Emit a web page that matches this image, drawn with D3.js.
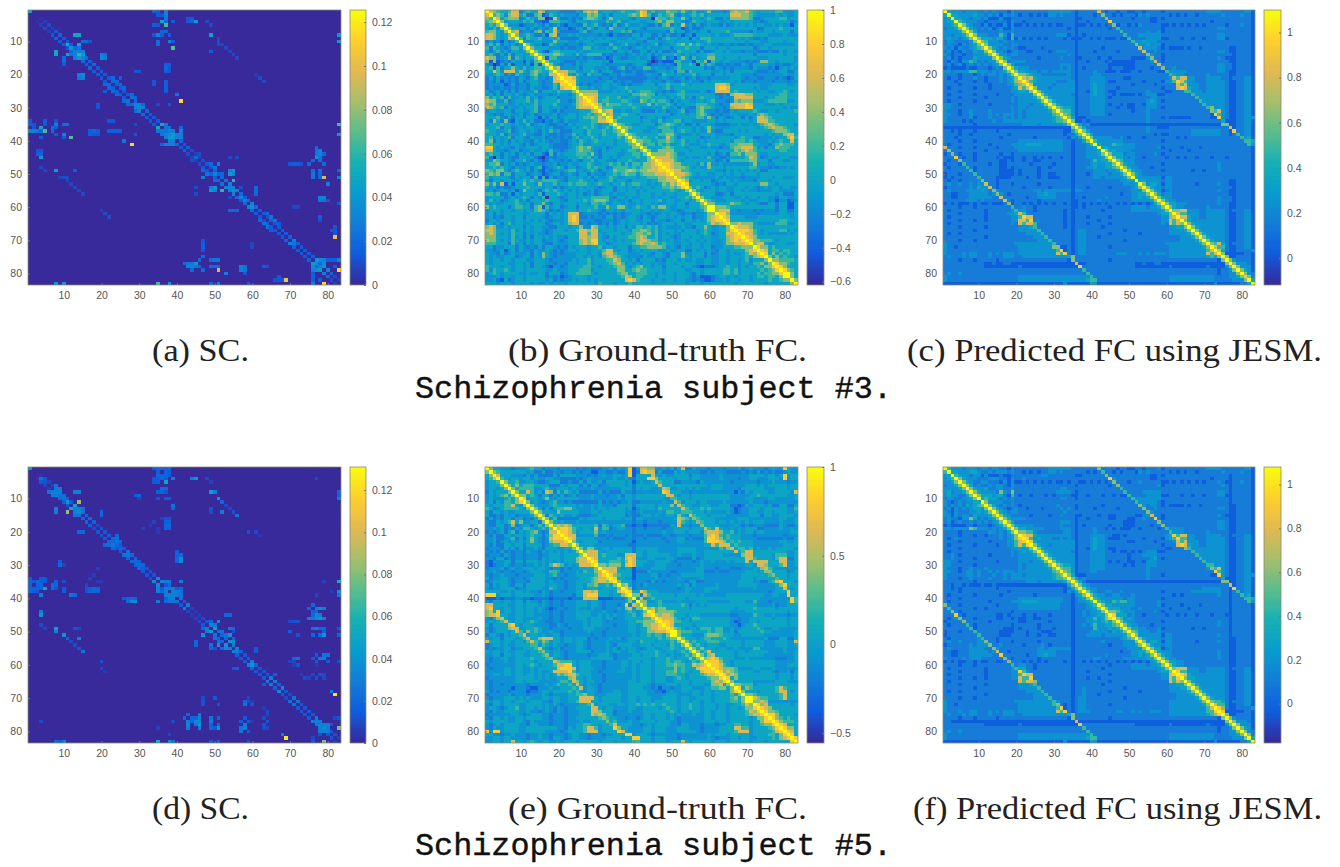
<!DOCTYPE html>
<meta charset="utf-8">
<title>SC and FC matrices for two schizophrenia subjects</title>
<style>
    body { margin: 0; background: #fff; }
    .tick text { font: 10.5px "Liberation Sans", sans-serif; fill: #555; }
    .tick line, .domain { stroke: #777; }
    .cap { font-family: "Liberation Serif", serif; font-size: 31px; fill: #222; }
    .sub { font-family: "Liberation Mono", monospace; font-size: 31px; fill: #111; stroke: #111; stroke-width: 0.4; }
</style>
<body>
<script src="https://cdn.jsdelivr.net/npm/d3@7"></script>
<script>
// axis ticks shared by all six matrices
var matrixTicks = [10, 20, 30, 40, 50, 60, 70, 80];
var nRegions = 83;

// colorbar ranges and ticks, one per panel
var domainA = [0, 0.1256],    ticksA = [0, 0.02, 0.04, 0.06, 0.08, 0.1, 0.12];
var domainB = [-0.62, 1],     ticksB = [-0.6, -0.4, -0.2, 0, 0.2, 0.4, 0.6, 0.8, 1];
var domainC = [-0.12, 1.1],   ticksC = [0, 0.2, 0.4, 0.6, 0.8, 1];
var domainD = [0, 0.131],     ticksD = [0, 0.02, 0.04, 0.06, 0.08, 0.1, 0.12];
var domainE = [-0.555, 1],    ticksE = [-0.5, 0, 0.5, 1];
var domainF = [-0.18, 1.08],  ticksF = [0, 0.2, 0.4, 0.6, 0.8, 1];

// SC (a): values between neighbouring regions i and i+1, i = 1..82
var scBandA = [0,0,.003,.007,.01,.007,.014,.017,.014,.014,.014,.02,.02,.02,.02,.017,.02,.014,.017,.014,.014,.02,.02,.014,.014,.014,.017,.02,.017,.02,.02,.014,.014,.014,.014,.035,.014,.014,.028,.02,.014,.017,.01,.007,.007,.01,.014,.014,.017,.017,.02,.017,.014,.02,.02,.02,.014,.02,.014,.02,.014,.014,.01,.017,.014,.014,.014,.014,.017,.02,.017,.014,.014,.014,.017,.02,.02,.02,.02,.014,.01,.007];
// SC (a): other non-zero cells [row, col, value], mirrored when drawn
var scCellsA = [
[1,1,.045],[1,35,.012],[2,36,.012],[1,37,.03],[2,37,.03],[3,37,.025],[4,36,.04],[5,37,.065],[4,37,.02],[5,35,.015],
[3,43,.015],[4,43,.02],[3,44,.015],[4,44,.022],[4,45,.048],[8,13,.055],[8,14,.04],[8,49,.045],[8,35,.03],[7,36,.02],[7,37,.02],[8,38,.015],
[10,35,.025],[11,35,.025],[10,38,.03],[10,39,.015],[12,39,.07],[13,49,.022],[11,51,.01],[10,51,.01],[5,49,.008],
[13,54,.008],[14,55,.008],[15,56,.008],[12,53,.008],[8,83,.04],[10,83,.03],[11,11,.052],[11,14,.04],[14,11,.05],[12,12,.04],[13,13,.03],
[14,14,.06],[13,15,.028],[13,14,.03],[15,13,.028],[15,15,.03],[14,15,.04],[13,8,.05],[14,8,.05],[12,14,.025],[15,21,.03],[14,21,.025],[20,14,.03],[20,15,.033],
[10,16,.012],[10,17,.012],[16,10,.02],[15,10,.02],[19,29,.012],[19,30,.012],[17,37,.015],[18,37,.02],[18,38,.012],[23,37,.015],[25,37,.015],[22,37,.015],
[22,24,.025],[21,25,.015],[23,25,.02],[24,26,.02],[23,21,.02],[24,22,.02],[24,23,.015],[26,28,.02],[27,29,.02],[27,28,.025],[29,29,.03],[29,30,.03],[30,31,.03],[30,30,.03],[30,29,.03],[29,31,.02],
[26,40,.02],[28,41,.115],[34,8,.012],[35,8,.03],[35,10,.022],[35,11,.022],[36,8,.015],[38,10,.03],[39,12,.07],[37,4,.02],[36,4,.05],[37,5,.065],
[34,1,.015],[35,1,.015],[35,2,.012],[37,1,.03],[37,2,.03],[37,3,.025],[39,4,.015],[34,5,.015],[35,5,.012],[37,17,.015],[38,17,.015],[37,19,.015],[38,19,.012],[37,22,.015],[37,24,.015],[34,22,.012],[34,23,.012],[38,29,.012],[35,29,.01],
[36,35,.06],[35,36,.05],[37,35,.025],[38,36,.025],[37,36,.03],[37,37,.025],[38,37,.03],[36,37,.025],[39,37,.03],[39,38,.04],[38,38,.035],[39,39,.04],[38,39,.04],[40,38,.03],[41,37,.02],[41,38,.02],[41,39,.02],[36,41,.018],[37,41,.028],[38,41,.028],[39,41,.028],[40,41,.02],[41,36,.018],[35,83,.06],[38,83,.03],
[40,26,.025],[41,28,.115],[43,3,.012],[43,4,.012],[44,4,.018],[45,4,.04],[48,4,.008],[49,8,.045],[49,13,.015],[51,9,.008],[51,10,.01],[52,11,.008],[53,12,.008],[54,13,.008],[55,14,.008],[56,15,.008],[61,20,.006],[62,21,.01],[63,22,.01],
[44,46,.01],[45,45,.02],[47,49,.02],[48,50,.025],[47,51,.03],[50,50,.03],[50,52,.02],[49,54,.03],[49,55,.03],[45,54,.01],[45,56,.01],[52,55,.06],[53,52,.025],[54,50,.04],[55,49,.04],[55,50,.03],[54,53,.04],[53,54,.03],[54,54,.03],[55,54,.03],[55,55,.035],[56,55,.03],[54,57,.01],[55,52,.06],[61,54,.02],[61,55,.02],[61,56,.02],[58,58,.03],[57,57,.03],[60,60,.035],[59,60,.03],[60,59,.03],[55,61,.02],[56,61,.02],[59,83,.01],
[42,77,.02],[43,77,.025],[43,78,.025],[44,77,.025],[44,78,.025],[45,77,.04],[46,76,.02],[46,78,.028],[47,79,.02],[47,70,.012],[47,71,.012],[49,76,.025],[50,76,.025],[51,76,.02],[51,78,.02],[51,79,.1],[53,80,.05],[57,78,.03],[57,79,.03],[49,83,.012],[51,83,.025],[60,71,.008],[60,72,.008],[63,78,.03],[64,78,.015],[63,65,.025],[64,66,.025],[65,63,.025],[64,62,.02],[65,67,.015],[68,82,.012],[69,82,.105],[67,81,.012],[70,71,.03],[71,71,.025],
[71,47,.015],[72,47,.015],[73,47,.012],[77,45,.04],[78,43,.03],[78,44,.03],[79,44,.02],[78,46,.022],[78,45,.025],[75,47,.02],[76,46,.02],[76,49,.022],[78,49,.022],[79,51,.095],[76,51,.025],[78,50,.02],[80,53,.03],[78,58,.025],[79,58,.025],[80,58,.012],[78,63,.015],[78,64,.01],
[76,77,.04],[77,76,.04],[77,77,.035],[78,76,.035],[78,78,.03],[79,77,.035],[79,78,.04],[76,79,.028],[76,83,.04],[76,82,.02],[76,81,.02],[79,80,.03],[80,81,.02],[80,79,.03],[81,80,.02],[79,83,.115],[78,82,.015],[82,69,.105],[82,67,.012],[82,66,.012],
[83,8,.04],[83,10,.04],[83,35,.065],[83,38,.04],[83,49,.02],[83,51,.03],[83,59,.015],[83,76,.03],[83,79,.115],[79,83,.115],[80,76,.015],[81,76,.015],[82,76,.015]
];

// SC (d): neighbouring regions
var scBandD = [0,0,.003,.014,.008,.007,.018,.018,.016,.016,.014,.02,.02,.02,.02,.02,.018,.01,.014,.013,.016,.02,.018,.014,.014,.014,.02,.02,.018,.02,.014,.014,.01,.008,.01,.014,.02,.02,.02,.014,.014,.035,.008,.006,.007,.01,.014,.02,.018,.02,.02,.02,.025,.025,.02,.018,.014,.014,.014,.025,.014,.013,.014,.018,.018,.018,.018,.014,.01,.014,.018,.014,.013,.014,.014,.018,.02,.02,.02,.014,.007,.007];
// SC (d): other non-zero cells
var scCellsD = [
[1,1,.04],[1,35,.02],[1,36,.02],[1,37,.02],[1,38,.02],[2,35,.02],[2,38,.02],[3,35,.02],[3,36,.02],[3,37,.02],[3,38,.02],[4,4,.025],[5,5,.012],
[4,36,.03],[4,37,.02],[5,37,.05],[5,35,.015],[4,39,.03],[4,44,.03],[4,45,.04],[4,48,.008],[5,49,.008],[8,13,.03],[8,14,.03],[8,49,.04],[8,50,.03],[8,35,.02],[7,36,.022],[7,37,.02],[8,37,.015],[10,35,.02],[10,37,.015],[10,38,.015],
[6,8,.03],[7,8,.035],[7,9,.03],[8,7,.03],[8,8,.028],[8,9,.03],[8,6,.025],[9,9,.025],[9,10,.025],[10,10,.025],[10,9,.022],[9,8,.03],
[11,11,.04],[14,11,.08],[13,12,.05],[12,13,.05],[11,14,.085],[13,8,.03],[14,8,.03],[13,13,.03],[13,14,.035],[14,14,.035],[14,13,.03],[13,15,.025],[14,15,.03],[15,14,.025],[15,13,.025],
[14,20,.02],[15,20,.02],[20,14,.02],[20,15,.02],[10,51,.04],[14,52,.03],[13,49,.02],[14,49,.012],[11,52,.02],[12,53,.012],[13,54,.012],[14,55,.012],[15,56,.012],[12,39,.03],[13,39,.025],[16,37,.012],[16,38,.012],[18,37,.02],[18,38,.02],
[9,29,.015],[9,30,.012],[18,33,.006],[17,34,.006],[19,35,.006],[22,24,.025],[23,23,.02],[24,23,.025],[23,25,.02],[24,22,.022],[21,24,.02],[24,24,.02],[25,25,.02],[26,27,.025],[27,27,.025],[29,29,.02],[30,30,.02],[30,31,.02],[31,31,.015],
[26,40,.015],[27,40,.018],[27,41,.02],[28,41,.035],[29,41,.035],[28,40,.018],[30,9,.02],[30,10,.008],[31,19,.008],[33,34,.012],[34,35,.035],
[35,36,.04],[35,37,.03],[35,38,.03],[35,41,.025],[36,35,.035],[38,35,.03],[41,35,.03],[36,38,.02],[37,37,.03],[37,38,.03],[37,39,.03],[37,40,.028],[38,37,.03],[38,40,.03],[39,37,.03],[39,38,.03],[39,39,.03],[39,40,.03],[40,37,.015],[38,41,.025],[39,41,.025],[40,41,.025],[41,37,.02],[41,38,.025],[41,39,.025],
[34,1,.015],[35,1,.018],[35,2,.015],[36,1,.018],[36,3,.018],[37,1,.018],[37,2,.018],[37,3,.018],[38,2,.015],[38,3,.014],[34,4,.014],[35,4,.016],[36,4,.02],[37,4,.016],[37,5,.05],[34,5,.014],[35,8,.018],[36,8,.018],[37,8,.012],[35,10,.012],[37,17,.015],[38,17,.018],[37,19,.018],[38,19,.018],[36,16,.008],[35,20,.006],[34,17,.008],
[39,4,.03],[39,12,.025],[39,13,.02],[40,26,.015],[40,27,.018],[40,28,.02],[41,28,.035],[41,29,.035],[40,29,.018],[45,4,.04],[48,4,.01],[49,8,.045],[49,13,.012],[49,14,.01],[51,10,.04],[52,14,.03],[53,12,.01],[54,13,.01],[55,14,.012],[56,15,.025],[59,20,.012],[61,20,.01],[62,21,.006],
[35,83,.05],[38,83,.035],[9,83,.015],[10,83,.022],[42,43,.03],[43,42,.03],[48,50,.03],[47,51,.04],[48,49,.035],[49,48,.03],[50,49,.045],[49,47,.02],[50,51,.025],[50,52,.025],[51,53,.025],[49,54,.025],[49,55,.02],[45,54,.02],[54,51,.04],[54,53,.04],[55,53,.03],[55,54,.035],[53,55,.035],[54,55,.03],[52,55,.02],[55,56,.03],[56,56,.03],[53,45,.02],[55,50,.012],[60,59,.035],[59,60,.03],[60,60,.04],[61,60,.02],[61,56,.015],[61,55,.015],[55,61,.015],[56,61,.015],[64,65,.03],[65,66,.03],[63,66,.015],
[42,76,.02],[43,77,.03],[43,78,.03],[43,79,.03],[44,76,.02],[44,77,.02],[45,78,.04],[45,77,.03],[46,76,.03],[46,77,.03],[46,78,.03],[46,79,.03],[47,70,.008],[49,77,.03],[49,79,.02],[50,79,.015],[50,70,.02],[51,78,.02],[51,79,.04],[51,72,.012],[49,83,.012],[51,83,.02],[57,77,.015],[57,79,.025],[57,80,.025],[58,71,.02],[58,72,.02],[59,70,.008],[59,71,.008],[59,77,.015],[59,80,.015],[60,71,.006],[60,77,.006],[63,73,.006],[64,74,.01],[63,76,.01],[63,79,.01],[64,79,.01],[68,81,.03],[69,82,.13],[67,68,.035],[68,67,.035],[70,71,.025],[71,72,.025],
[70,50,.015],[70,47,.01],[71,58,.02],[72,58,.025],[72,60,.012],[71,47,.012],[72,47,.012],[75,43,.02],[76,44,.02],[76,45,.02],[75,46,.03],[76,46,.03],[77,43,.03],[78,43,.035],[77,44,.02],[77,45,.035],[78,45,.03],[77,46,.035],[78,46,.04],[76,49,.025],[78,49,.02],[76,51,.02],[79,51,.04],[78,58,.03],[79,58,.03],[76,58,.015],[77,4,.01],[77,39,.01],[79,35,.008],[81,38,.008],[78,63,.012],[77,64,.012],[75,64,.008],
[76,77,.03],[77,76,.03],[78,77,.03],[77,77,.03],[78,78,.03],[79,79,.035],[79,78,.03],[80,79,.035],[80,80,.03],[79,80,.03],[78,80,.03],[76,83,.015],[79,83,.09],[78,81,.012],[82,81,.012],[81,68,.03],[82,69,.125],
[83,8,.02],[83,10,.03],[83,35,.055],[83,38,.035],[83,39,.025],[83,49,.015],[83,51,.02],[83,59,.012],[83,76,.012],[83,79,.08],[82,76,.01]
];

// fraction of the colorbar that each FC level 0-9 stands for
var fcLevels = [0.02, 0.12, 0.22, 0.30, 0.38, 0.50, 0.62, 0.76, 0.88, 1];

// FC matrices read as levels, lower triangle, col 1..row, grouped by ten columns
var fcB = [
"9","79","659","5679","45469","435369","5664369","77643469","776434769","2423142359",
"4535243424 9","5254323553 69","4245342443 469","4532425244 3469","7662346254 34469","6161232433 142569","3201425133 2415169","4515244643 53455469","4475377746 435654469","3345424254 3356343779",
"2424232324 3245332378 9","2324132324 2344323377 89","2333312423 3244323354 889","2322322323 3243322353 7889","4234242424 3335244435 44469","3424244343 2343333234 332469","6454525334 3534234442 3334679","7663352344 4535344445 33236789","6564443343 4345344453 333467889","7654524334 3445244344 3233677789",
"3443344244 3345244324 2333344467 9","4323244334 2342333342 3344344545 69","4445324244 2443142442 3444345565 769","4264262143 5342213243 2433344455 7789","3444544343 3523443223 3243444454 34469","4445244234 3443343422 2334345454 345469","5443345234 4343243534 2224443544 4544569","4443524334 5332243223 2335343544 35444669","4534345244 3243342323 2324534454 344445469","4624342434 3324343233 2234354345 4444344569",
"5544343443 2423444322 2234453344 4344344456 9","8843433243 3444344322 2234565643 3423444446 69","7743323442 3343343533 2344565543 2434443455 469","4544243424 3424421524 3444555463 2444433445 5469","5204243224 4342102323 3344454534 2443434444 54469","3365443244 5324212433 2324324453 4433244454 344679","4556243423 2343323342 3343344543 3445453535 5466789","4454543243 3424512345 4244234545 4423555545 45667789","6546642454 3424213234 3455343454 2434655676 566777889","5656255244 4234312344 2343244243 3244545655 3566677789",
"5344443243 4425151423 3244343424 3345433444 3445556677 9","4244344334 5454455554 3244454342 4445344324 4443446677 79","6463714144 6443634453 4454555434 5443445345 5443434657 689","4342322344 4544434424 2344343443 2344244343 4344344556 5689","3423443413 6443245454 3434344342 3444244344 3434444445 43469","5545224143 4443514445 4344342342 3443433444 3444344344 344469","3444423434 5424350443 2344344455 5553244343 3444343443 3445469","3534234453 4244445444 3244445456 6653433424 4344445344 33443469","4343344454 3424463244 3444344355 4533443433 4344343344 344244469","6454442455 4425615344 2344244445 3364466434 5443546643 3443444569",
"3444344344 3435654232 3444344544 3244343444 4344343443 3234443469 9","3424344444 3344442434 3477723333 2323232334 4332323434 4323323346 69","3423244344 2444432344 3478722323 3244232344 3243234434 3434423346 789","2443444344 3434343233 3478733332 2333234344 3344243323 4424434346 7889","3434245344 3344442344 3467723233 2324234344 4342323444 3443344445 76789","6763343444 2434433224 4434463376 4434344243 5545453433 3343324464 334469","7764443534 3434432344 4344577677 3444344435 5665453444 3434443454 3344689","6764343544 2434332344 4444477577 4344443445 6656453434 3344443454 23447789","6664443534 2424434343 3244477677 4324344455 6764453443 2344344344 334467889","7664343543 3434423343 2344467688 4344343444 6776553434 3343443434 3334678789",
"5554442534 2434432243 3344467678 4423444445 6766764544 3344344344 3334667778 9","4423344424 3232424432 3243444344 5344344424 4556666534 3243344344 2334445566 69","3323413424 3324334323 2344344344 4577434423 4344443343 3442243434 3244344446 789","4332423433 3424364323 2333444344 3677544433 3443244324 4463344424 2344343345 7689","4343344423 4424364323 3333443434 3567654333 3243344324 4464344424 3344344445 46789","4344344344 4334443233 3334344534 4455764434 2444423244 4343343344 3344344345 344469","4344443344 3424443323 3244344534 4445675343 4344343344 3444443344 3344344344 3556469","5444344344 3424432133 2344445544 3444566434 5644344244 4434432122 2344544343 44546689","5354454344 3444443343 3344455534 4444466445 6554444344 4443344344 4445545344 444545689","3454344443 3433442444 2344555543 4444456644 5554434344 3444324344 4445545344 4454556689",
"3334344344 3444442323 1234444344 4444445764 5544434444 3444323111 2344343444 3455455469 9","3342142344 3444443423 2334344343 4444444787 5444344344 3443323211 2334344344 3444454456 69","4443444344 4434334344 4344444443 5444344454 4444344444 4443444344 4444443444 4444344444 469"
];

var fcC = [
"9","49","349","3449","33459","233469","3333469","33233469","343323469","2332222369",
"2322132346 9","3231322345 69","2312132243 369","3212212233 3469","2312122243 33369","2132133542 323369","2312312323 2323469","1211112112 22123269","3323333553 332323469","2222122212 3233232469",
"2122122232 2122232346 9","2221222212 2122232346 79","2222122222 2212222335 679","2122222212 2212222234 7579","2222122222 2222222233 44369","2122222212 2222122223 333369","2222122222 2122222232 3333469","2122222212 2222222232 33333469","3322122222 2212222222 333233469","3322222222 2222222232 3323333469",
"3222122322 2232222232 3233333346 9","3322122322 2232323332 3233333335 69","3222222312 2232223232 3233333334 569","3222212122 2223223333 3333333334 5569","2222222212 2222222222 2333323333 33469","1111111111 1111111111 1111111111 111169","2212122212 2222122222 2222222222 2211469","2222122122 2222222122 2222222222 22122469","2221222222 2222212222 2222122222 222132469","2222122212 2222222222 3333333333 3322122469",
"2122222222 2212222233 3344443333 3322122235 9","7222122212 2222122223 3333333333 3322122233 49","2622222222 2122222222 3333333333 3322122233 349","1262122212 2222212212 2222222222 2222122233 3469","2228212212 2222121112 2122121212 2122122233 33469","2122622212 2222211212 2122112222 2222122223 534469","1222152222 2212211222 2221222221 2222122223 4334469","2122225212 2222211212 2222212212 2222122233 43344569","2222222512 2222211112 1222212222 2222122222 333233469","1222122252 2222211112 1222212211 2222122212 3333233469",
"1212222225 2222111122 2212212211 1222122222 3323333346 9","2122122223 6222122222 2222222222 2222122222 2222222334 49","2322322323 3722122212 2222212222 2222122222 2222222233 349","1222222324 3372122222 2122222212 2222122212 2222122222 3469","2322223333 4326322222 2222332333 3333133222 2222222222 33369","2211222333 3323632122 2222233433 2222122222 2222222122 334469","2211222333 3332272222 2212233333 2222122122 2223222222 3343469","2222223332 3222227212 2222212222 2222112222 2322222222 33333469","1212111212 1121112612 2121212121 2212112121 2121221212 121212469","2222122212 2222222252 2322122222 2222112122 2222122222 3333233469",
"2122222222 2122222235 3322122222 2212122222 2212222222 3333333346 9","2222122222 2122222334 7522222222 2212122222 2222222222 2222222344 69","2122222222 2122222233 5877222222 2212122212 2222122222 2222222233 679","2222122212 2122222233 7758222222 2212122222 2122222222 2222222233 7579","2122222222 2222222232 7577522222 2212122212 2222122222 2222222232 75769","2222122222 2122222222 3334522222 2212122222 2212222222 2222222222 334469","2222222212 2222222222 3333352222 2222123322 2222222212 2222222222 3333469","2122122222 2222222222 2233335222 2222123322 2222122222 2212222222 33333469","2222222222 2122222222 2222333522 2222123322 2122222222 2222222222 222333469","2222122212 2222222222 2222233352 2222123322 2222222212 2222222222 2223333469",
"3222222222 2222222223 3333333335 2222123322 2222222222 2222222223 3333333346 9","3221222222 2222222222 3333333336 6112123322 2222122222 2222222222 3333333334 69","3222222222 2222222222 3333333333 5812123322 2222222222 2222222222 3333333333 579","3222232332 2232323332 3333333333 7582123322 2222223332 2232323332 3333333333 7579","2322232332 2232223332 2333333333 3334622222 2222222222 2222222222 3333333333 45469","2222122212 2222122222 2222222222 2221622222 2222122222 2222222222 2222222222 222169","2222222222 2112112211 1111111111 1111171122 2222222222 2112112211 1111111111 1111169","2222222222 2111111111 2111111111 1111118222 2222222222 2111111111 2111111111 21111369","2222222222 2222222222 2222222222 2222222522 2222222222 2222222222 2222222222 222122369","2322322222 2222222222 2222222222 2222222252 2222222222 2222222222 2222222222 2221223369",
"3222222222 2222222222 3333333333 3333333335 2222222222 2222222222 3333333333 3322223346 8","3222222222 2222222222 3333333333 3333333345 5222222222 2222222222 3333333333 3322222333 69","1111111111 1111111111 1111111111 1131111114 3111111111 1111111111 1111111111 1131111112 249"
];

var fcE = [
"9","69","469","4579","34459","344469","3443469","24344469","343456469","3433345469",
"3424355468 9","4344455743 69","5423455554 369","4244343344 4469","4223243423 33469","2423244244 232469","3224345746 3344269","3224423623 44245369","3343423243 554345469","2323424524 3456323779",
"3242244344 3454424688 9","3342234524 2464323788 89","3342343434 3464323677 789","3242244344 2444423455 7769","2333243424 2334324443 34469","3232423233 2433243434 343469","2333243233 2333233444 3444469","3324423233 2333243444 34446779","2133344244 2444343434 344467789","2123343233 2334343576 5343477789",
"2333423433 4443443233 2323344446 9","3343233233 2344433554 2333435446 79","3233433323 3334443453 3233444445 789","4233443233 2344443323 2333344456 7789","2344443233 3244443433 3233444456 77689","4243443244 2444443443 3233443556 445469","3233444423 3444433543 3233443444 3444469","4444334344 3433243233 2333447767 44434789","8883444344 4443343233 3332447888 444344689","1112122233 2212222122 2212227777 1111222469",
"3244344344 2433243233 2333444344 3233333463 9","7744443344 3444343233 2333444344 3233323827 69","7844344344 3443432123 3233433343 3233343673 669","6748344344 3443433233 2333444433 3433233454 3469","6778443344 3443333233 2333444433 4343433445 34789","3246743344 3333433233 2333444344 4344233444 445579","3434574344 3454332233 2333334344 4323333344 5566689","4244447843 4443333224 3233334344 4333233344 34667789","3234446773 3445433233 3323334443 3323333344 344677889","4234443475 3645433433 2333333433 3233333344 3446677789",
"2443243445 7344343344 2333333323 3233333334 3445455469 9","4344244434 5744677744 3443444232 3334342344 4444445456 69","7444344344 3575465344 3443443233 3343333344 3544434445 469","2344343344 4455354343 3233443233 3343244443 3444344435 4469","2323344233 4445743234 2333443233 3343424344 3234433445 44469","4344343344 4344564344 3233444423 3343443344 3444454344 345469","3344244344 3344456344 3233333233 4443233334 4344454434 3345469","3233443344 4454445643 3233333344 4444233344 4444344454 34446469","3233343344 4443444476 5554344433 3233334434 4344344454 554345469","2333333344 3454344457 7884344433 3233334434 3444344455 6554476789",
"3233344344 3343444447 8887344443 3233334334 3444344444 6454447888 9","3333344344 3343433477 7785344433 2333344334 3444344455 6454344788 89","3344344344 3443434346 5677544433 3233333334 3444344455 5443444567 789","2333333344 4443434334 4467443433 3233333334 3444344433 4543444445 6689","3233333344 3444333334 5547643443 3233333344 3444344433 4444344444 67689","3233233333 3233334345 4454743433 2333333344 4443233344 4344344433 667469","3233333133 3211333433 4445473443 2333333344 4433231332 3344433344 5566469","4232332333 3122344344 4454543443 2333443344 4443322134 3344344344 34444689","2333334233 3233343233 3344556443 3344443344 4443333344 4333344344 344445469","3233344434 3433344344 3344477774 3444443344 3444333444 4344334444 3444456469",
"4344344344 4344433244 3344577744 3444443344 3444344444 4344344344 3444455469 9","3244344443 3444434343 2333344573 4443344344 5454544544 4344544344 4344334457 69","3443234453 3443434324 3233444477 4344333344 3344443454 4344544344 4344344346 689","3243344443 3433234324 3233344477 6444233343 3344444445 4344344344 3444344445 7689","2333333443 2344433233 3233344476 7644233333 3344344434 3433343344 3444344445 67789","3244343344 3444433233 3233444444 5654433233 2344344434 3233333344 3444344444 346689","4344443344 3243333233 3233343344 4464533343 3444434443 3233333344 4344344444 3446889","3234344443 3244333233 3233445544 3445744443 3234344443 3244333233 3233445544 34456689","3243344443 3444444443 3243445775 3444864433 3344344433 3444333233 3344447755 344445689","8388344443 3444443333 2344445777 3444487433 3344344433 3444443233 3344445777 3444445789",
"4433233433 3233433233 3234433233 3233444883 4443233333 3233333334 3444344444 3444455468 9","3344344333 3233433244 3234433233 3344443448 8444344433 3233333334 3233344344 3344445467 89","3344344744 3454344334 3444344444 3444344445 5444344434 4474344444 3444344444 3444344444 489"
];

var fcF = [
"9","59","349","3459","33469","233469","3333469","34233469","343322469","2332233469",
"3212323344 9","3232324345 69","2313232344 369","3213222334 3469","3313233243 33469","2322133642 323469","2312322323 2323469","1211112212 22123469","3323333653 332323469","2222122222 2233232469",
"2222122212 2122232346 9","2123222222 2222232346 89","2222122222 2212222335 789","2122222212 2222122335 7589","2222122222 2222222233 43469","2122222222 2222222232 343469","2232122222 2212222232 3333469","2232222212 2222222222 33333469","3322122222 2222122222 333233469","3322222212 2222222222 3233333469",
"3222122322 2322222222 3233333346 9","3322123323 2232323332 3333333335 69","3222223323 2223223233 3233333334 569","3222122322 2232223233 3333333334 5569","2222222212 2222222222 2233323333 33469","2212212111 2112111111 1111111111 111469","2212122222 2222122222 2222222222 2212469","2222122222 2222222122 2222222222 22132469","2122222212 2222212222 2222122222 222213469","2222122222 2222222222 3333333333 3322123469",
"2122222222 2212222233 3444433333 3322123345 9","6222122222 2222122222 3333333333 3222122234 59","2522222212 2122222222 3333333333 3222122233 469","2262122222 2222222212 2222222222 2222122323 3469","2228212222 2222112122 2122122212 2222122323 34469","2123622212 2222112212 1122112222 2222122233 534689","1222262222 2212222222 1122222212 2222122233 4345469","2122225212 2222222212 2222212222 2222122323 53344569","2222222512 2222221112 1222212221 2222122222 533343469","1222122252 2222211112 2212221112 2222122223 3333243469",
"1222222225 2222211122 2212212211 2222122233 3323333346 9","2122222223 5222122222 2222222222 2222122222 2222222345 69","2322322223 3622122212 2222212222 2222122222 2232222233 369","1222222323 3362232222 2122223212 2222122222 2222122233 3469","2322222333 3226322222 2222233233 3333122222 2222222223 33369","2211222333 3323722122 2222233333 2222122222 2222222122 334469","2211222333 3332282222 2212233433 2222122222 2223222222 3343469","3222232333 2222226212 2222212222 2222122222 3322222233 33334469","1212112212 1122112622 2121212122 2212122121 2121221212 121213469","2222122212 2222222252 3322122222 2222122222 2222122222 3333233469",
"2122222222 2122222235 4422122222 2222122222 2212222222 3333333346 9","2222122222 2122222233 8532222222 2222122212 2222222222 2222222344 69","2122222222 2122222233 5877222222 2222122222 2222122222 2222222233 789","2222122212 2122222233 7558222222 2222122212 2122222222 2222222233 7589","2122222222 2222222222 7577622222 2222122222 2222122222 2222222222 75769","2222122222 2122222222 3334522222 2222122222 2212222222 2222222222 334469","2222222212 2222222222 3333352222 2222122322 2222222212 2222222222 3334469","2122122222 2222222222 2233335222 2222122322 2222122222 2212222222 33333469","2222222222 2122222222 2222333522 2222122322 2122222222 2222222222 223333469","2222122212 2222222222 2222333352 2222123322 2222222212 2222222222 2233333469",
"3222222222 2222222223 3333333335 3222123322 2222222222 2222222222 3333333346 9","3221222222 2222222222 3333333335 6212123322 2222122222 2222222222 3333333334 69","3222222222 2222222222 3333333333 5812123322 2222222222 2222222222 3333333333 579","3222322332 2232323332 3333333333 7582123332 2222223322 3232233322 3333333333 5589","2322232332 2232223332 2333333333 3334622222 2222222222 2222222222 3333333333 45689","2222122212 2222122222 2222222222 2221622222 2222122222 2222222222 2222222222 222169","2211111111 1111111111 1111111111 1111171111 1111111111 1111111111 1111111111 1111169","2222222222 2111111111 2111111111 1111118222 2222222222 2111111111 2111111111 21111369","2222222222 2222222222 2222222222 2222222522 2222222222 2222222222 2222222222 222122369","2322322222 2222222222 2222222222 2222222252 2222222222 2222222222 2222222222 2221223369",
"3222222222 2222222222 3333333333 3333333335 2222222222 2222222222 3333333333 3322223346 9","3222222222 2222222222 3333333333 3333333345 5222222222 2222222222 3333333333 3322222333 69","1111111111 1111111111 1111111111 1131111114 3111111111 1111111111 1111111111 1131111112 249"
];

// captions
var captionTexts = ["(a) SC.", "(b) Ground-truth FC.", "(c) Predicted FC using JESM.", "(d) SC.", "(e) Ground-truth FC.", "(f) Predicted FC using JESM."];
var subjectTexts = ["Schizophrenia subject #3.", "Schizophrenia subject #5."];

// parula
var parula = d3.scaleLinear()
    .domain(d3.range(10).map(function(i) { return i / 9; }))
    .range(["#38299a", "#0f5cdd", "#127dd8", "#079ccf", "#15b1b4", "#59bd8c", "#a5be6b", "#e1b952", "#fcce2e", "#f9fb0e"])
    .clamp(true);

function emptyMatrix() {
    return d3.range(nRegions).map(function() { return d3.range(nRegions).map(function() { return 0; }); });
}

// band + cells into a symmetric matrix
function scMatrix(band, cells) {
    var m = emptyMatrix();
    band.forEach(function(v, i) { m[i + 1][i] = v; m[i][i + 1] = v; });
    cells.forEach(function(d) { m[d[0] - 1][d[1] - 1] = d[2]; m[d[1] - 1][d[0] - 1] = d[2]; });
    return m;
}

// level strings into a symmetric matrix of colorbar values
function fcMatrix(rows, dom) {
    var m = emptyMatrix();
    var lev = d3.scaleLinear().domain([0, 1]).range(dom);
    rows.forEach(function(s, r) {
        var digits = s.replace(/ /g, "");
        for (var c = 0; c <= r; c++) {
            var d = digits[c] === undefined ? 3 : +digits[c];
            m[r][c] = lev(fcLevels[d]);
            m[c][r] = lev(fcLevels[d]);
        }
    });
    return m;
}

var colX = [{x0: 28, x1: 341, b0: 350, b1: 366}, {x0: 485, x1: 798, b0: 807, b1: 824}, {x0: 943, x1: 1255, b0: 1264, b1: 1281}];
var rowY = [{y0: 10, y1: 285}, {y0: 467, y1: 743}];

var panels = [
    {m: scMatrix(scBandA, scCellsA), dom: domainA, ticks: ticksA, col: 0, row: 0},
    {m: fcMatrix(fcB, domainB), dom: domainB, ticks: ticksB, col: 1, row: 0},
    {m: fcMatrix(fcC, domainC), dom: domainC, ticks: ticksC, col: 2, row: 0},
    {m: scMatrix(scBandD, scCellsD), dom: domainD, ticks: ticksD, col: 0, row: 1},
    {m: fcMatrix(fcE, domainE), dom: domainE, ticks: ticksE, col: 1, row: 1},
    {m: fcMatrix(fcF, domainF), dom: domainF, ticks: ticksF, col: 2, row: 1}
];

var svg = d3.select("body").append("svg").attr("width", 1340).attr("height", 867);
svg.append("defs").append("filter").attr("id", "soft")
    .attr("x", "-2%").attr("y", "-2%").attr("width", "104%").attr("height", "104%")
    .append("feGaussianBlur").attr("stdDeviation", 0.7);

panels.forEach(function(p, k) {
    var cx = colX[p.col], ry = rowY[p.row];
    var x = d3.scaleLinear().domain([0.5, nRegions + 0.5]).range([cx.x0, cx.x1]);
    var y = d3.scaleLinear().domain([0.5, nRegions + 0.5]).range([ry.y0, ry.y1]);
    var color = d3.scaleLinear().domain(p.dom).range([0, 1]);

    var clipId = "clip" + k;
    svg.append("clipPath").attr("id", clipId).append("rect")
        .attr("x", cx.x0).attr("y", ry.y0).attr("width", cx.x1 - cx.x0).attr("height", ry.y1 - ry.y0);

    var cells = [];
    p.m.forEach(function(row, r) { row.forEach(function(v, c) { cells.push({r: r + 1, c: c + 1, v: v}); }); });

    svg.append("g").attr("clip-path", "url(#" + clipId + ")")
        .append("g").attr("filter", "url(#soft)").attr("shape-rendering", "crispEdges")
        .selectAll("rect").data(cells).enter().append("rect")
        .attr("x", function(d) { return x(d.c - 0.5); })
        .attr("y", function(d) { return y(d.r - 0.5); })
        .attr("width", function(d) { return x(d.c + 0.5) - x(d.c - 0.5); })
        .attr("height", function(d) { return y(d.r + 0.5) - y(d.r - 0.5); })
        .attr("fill", function(d) { return parula(color(d.v)); });

    // box and ticks
    svg.append("rect").attr("x", cx.x0).attr("y", ry.y0).attr("width", cx.x1 - cx.x0).attr("height", ry.y1 - ry.y0)
        .attr("fill", "none").attr("stroke", "#8a8a70").attr("stroke-width", 0.8);
    var gx = svg.append("g").attr("transform", "translate(0," + ry.y1 + ")")
        .call(d3.axisBottom(x).tickValues(matrixTicks).tickSizeInner(-2).tickSizeOuter(0).tickPadding(7));
    var gy = svg.append("g").attr("transform", "translate(" + cx.x0 + ",0)")
        .call(d3.axisLeft(y).tickValues(matrixTicks).tickSizeInner(-2).tickSizeOuter(0).tickPadding(6));
    gx.select(".domain").remove();
    gy.select(".domain").remove();

    // colorbar
    var cb = d3.scaleLinear().domain(p.dom).range([ry.y1, ry.y0]);
    var steps = d3.range(0, 128).map(function(i) { return p.dom[0] + (i / 127) * (p.dom[1] - p.dom[0]); });
    var stepH = (ry.y1 - ry.y0) / 128;
    svg.append("g").attr("shape-rendering", "crispEdges").selectAll("rect").data(steps).enter().append("rect")
        .attr("x", cx.b0).attr("width", cx.b1 - cx.b0)
        .attr("y", function(d) { return cb(d) - stepH * (1 - (d - p.dom[0]) / (p.dom[1] - p.dom[0])); })
        .attr("height", stepH + 0.4)
        .attr("fill", function(d) { return parula(color(d)); });
    svg.append("rect").attr("x", cx.b0).attr("y", ry.y0).attr("width", cx.b1 - cx.b0).attr("height", ry.y1 - ry.y0)
        .attr("fill", "none").attr("stroke", "#8a8a70").attr("stroke-width", 0.8);
    var gb = svg.append("g").attr("transform", "translate(" + cx.b1 + ",0)")
        .call(d3.axisRight(cb).tickValues(p.ticks).tickFormat(function(d) { return d3.format("")(d); })
            .tickSizeInner(-2).tickSizeOuter(0).tickPadding(6));
    gb.select(".domain").remove();
});

// captions, fitted to the width they take in the page
var capX = [[152, 97], [508, 299], [907, 415], [152, 97], [508, 299], [913, 409]];
var capY = [361, 361, 361, 819, 819, 819];
svg.selectAll("text.cap").data(captionTexts).enter().append("text").attr("class", "cap")
    .attr("x", function(d, i) { return capX[i][0]; })
    .attr("y", function(d, i) { return capY[i]; })
    .attr("textLength", function(d, i) { return capX[i][1]; })
    .attr("lengthAdjust", "spacingAndGlyphs")
    .text(function(d) { return d; });
svg.selectAll("text.sub").data(subjectTexts).enter().append("text").attr("class", "sub")
    .attr("x", 415)
    .attr("y", function(d, i) { return i ? 855 : 398; })
    .attr("textLength", 477)
    .attr("lengthAdjust", "spacingAndGlyphs")
    .text(function(d) { return d; });
</script>
</body>
